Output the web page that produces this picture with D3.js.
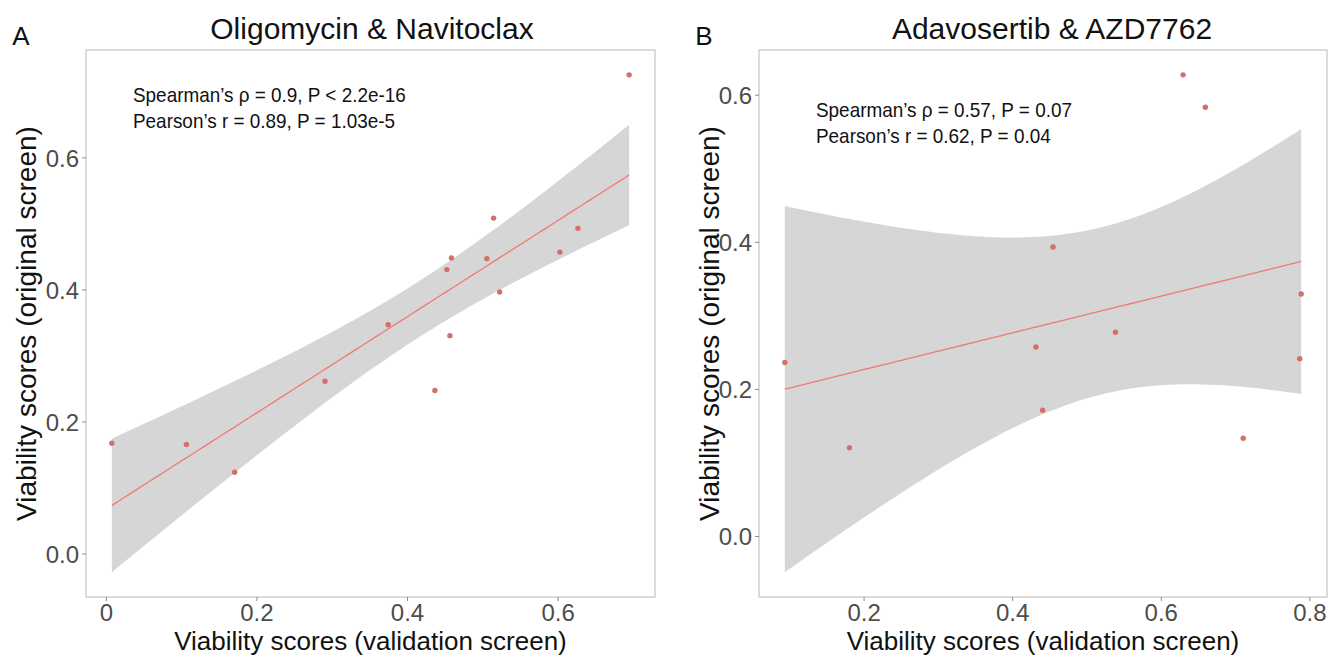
<!DOCTYPE html>
<html>
<head>
<meta charset="utf-8">
<script src="https://cdn.jsdelivr.net/npm/d3@7"></script>
<style>
  body { margin: 0; background: #ffffff; }
  svg { display: block; }
</style>
</head>
<body>
<svg id="chart" width="1332" height="658"></svg>
<script>
// ---------- data ----------
const panelLetters = ["A", "B"];
const panelTitles = ["Oligomycin & Navitoclax", "Adavosertib & AZD7762"];

const aValidation = [0.695, 0.515, 0.627, 0.603, 0.459, 0.453, 0.506, 0.523, 0.375, 0.457, 0.291, 0.437, 0.008, 0.107, 0.171];
const aOriginal   = [0.725, 0.508, 0.4925, 0.4565, 0.4475, 0.430, 0.4465, 0.396, 0.3465, 0.330, 0.261, 0.247, 0.167, 0.165, 0.123];
const aStats = ["Spearman\u2019s \u03c1 = 0.9, P < 2.2e-16", "Pearson\u2019s r = 0.89, P = 1.03e-5"];
const aXTicks = [0, 0.2, 0.4, 0.6];
const aXTickLabels = ["0", "0.2", "0.4", "0.6"];
const aYTicks = [0, 0.2, 0.4, 0.6];
const aYTickLabels = ["0.0", "0.2", "0.4", "0.6"];

const bValidation = [0.630, 0.660, 0.455, 0.789, 0.539, 0.094, 0.432, 0.787, 0.441, 0.181, 0.711];
const bOriginal   = [0.627, 0.583, 0.393, 0.329, 0.277, 0.236, 0.257, 0.241, 0.171, 0.120, 0.133];
const bStats = ["Spearman\u2019s \u03c1 = 0.57, P = 0.07", "Pearson\u2019s r = 0.62, P = 0.04"];
const bXTicks = [0.2, 0.4, 0.6, 0.8];
const bXTickLabels = ["0.2", "0.4", "0.6", "0.8"];
const bYTicks = [0, 0.2, 0.4, 0.6];
const bYTickLabels = ["0.0", "0.2", "0.4", "0.6"];

const xAxisTitle = "Viability scores (validation screen)";
const yAxisTitle = "Viability scores (original screen)";

// ---------- helpers ----------
// Student t 97.5% quantile (Cornish-Fisher expansion)
function tQuantile975(v) {
  const z = 1.959963985;
  const z3 = z*z*z, z5 = z3*z*z, z7 = z5*z*z, z9 = z7*z*z;
  return z + (z3 + z)/(4*v) + (5*z5 + 16*z3 + 3*z)/(96*v*v)
    + (3*z7 + 19*z5 + 17*z3 - 15*z)/(384*v*v*v)
    + (79*z9 + 776*z7 + 1482*z5 - 1920*z3 - 945*z)/(92160*v*v*v*v);
}

function linearFit(xs, ys) {
  const n = xs.length;
  const mx = d3.mean(xs), my = d3.mean(ys);
  let sxx = 0, sxy = 0;
  for (let i = 0; i < n; i++) { sxx += (xs[i]-mx)**2; sxy += (xs[i]-mx)*(ys[i]-my); }
  const b = sxy / sxx, a = my - b*mx;
  let sse = 0;
  for (let i = 0; i < n; i++) sse += (ys[i] - (a + b*xs[i]))**2;
  const s = Math.sqrt(sse / (n - 2));
  const t = tQuantile975(n - 2);
  const [x0, x1] = d3.extent(xs);
  return d3.range(80).map(i => {
    const x = x0 + (x1 - x0) * i / 79;
    const yh = a + b*x;
    const se = s * Math.sqrt(1/n + (x-mx)**2 / sxx);
    return { x, y: yh, lo: yh - t*se, hi: yh + t*se };
  });
}

const svg = d3.select("#chart");
const FONT = "'Liberation Sans', Arial, Helvetica, sans-serif";

function drawPanel(p) {
  const fitRows = linearFit(p.xs, p.ys);
  const xExt = d3.extent(p.xs);
  const yExt = d3.extent(p.ys.concat(fitRows.map(d => d.lo), fitRows.map(d => d.hi)));
  const xPad = (xExt[1]-xExt[0]) * 0.05, yPad = (yExt[1]-yExt[0]) * 0.05;

  const x = d3.scaleLinear().domain([xExt[0]-xPad, xExt[1]+xPad]).range([p.left, p.right]);
  const y = d3.scaleLinear().domain([yExt[0]-yPad, yExt[1]+yPad]).range([p.bottom, p.top]);

  const g = svg.append("g");

  // band
  g.append("path").datum(fitRows)
    .attr("fill", "#d6d6d6")
    .attr("d", d3.area().x(d => x(d.x)).y0(d => y(d.lo)).y1(d => y(d.hi)));
  // fitted line
  g.append("path").datum(fitRows)
    .attr("fill", "none").attr("stroke", "#ee7a72").attr("stroke-width", 1.3)
    .attr("d", d3.line().x(d => x(d.x)).y(d => y(d.y)));
  // points
  g.selectAll("circle.pt").data(p.xs.map((v, i) => [v, p.ys[i]])).join("circle")
    .attr("class", "pt")
    .attr("cx", d => x(d[0])).attr("cy", d => y(d[1])).attr("r", 2.7)
    .attr("fill", "#d4706b");

  // border
  g.append("rect")
    .attr("x", p.left).attr("y", p.top)
    .attr("width", p.right - p.left).attr("height", p.bottom - p.top)
    .attr("fill", "none").attr("stroke", "#c4c4c4").attr("stroke-width", 1.2);

  // axes
  const xa = g.append("g").attr("transform", `translate(0,${p.bottom})`)
    .call(d3.axisBottom(x).tickValues(p.xTicks).tickFormat((d, i) => p.xTickLabels[i]).tickSize(4).tickPadding(3));
  const ya = g.append("g").attr("transform", `translate(${p.left},0)`)
    .call(d3.axisLeft(y).tickValues(p.yTicks).tickFormat((d, i) => p.yTickLabels[i]).tickSize(4).tickPadding(3));
  [xa, ya].forEach(a => {
    a.select(".domain").remove();
    a.selectAll(".tick line").attr("stroke", "#8a8a8a");
    a.selectAll(".tick text").attr("fill", "#4d4d4d")
      .style("font-family", FONT).style("font-size", "24px");
  });
  ya.selectAll(".tick text").attr("dy", "0.36em");

  // axis titles
  g.append("text")
    .attr("x", (p.left + p.right)/2).attr("y", 650)
    .attr("text-anchor", "middle").attr("fill", "#111")
    .style("font-family", FONT).style("font-size", "26px")
    .text(xAxisTitle);
  g.append("text")
    .attr("transform", `translate(${p.yTitleX},${(p.top + p.bottom)/2}) rotate(-90)`)
    .attr("text-anchor", "middle").attr("fill", "#111")
    .style("font-family", FONT).style("font-size", "28px")
    .text(yAxisTitle);

  // title & letter
  g.append("text")
    .attr("x", p.titleX).attr("y", 39)
    .attr("text-anchor", "middle").attr("fill", "#111")
    .style("font-family", FONT).style("font-size", "30px")
    .text(p.title);
  g.append("text")
    .attr("x", p.letterX).attr("y", 45)
    .attr("text-anchor", "middle").attr("fill", "#111")
    .style("font-family", FONT).style("font-size", "26px")
    .text(p.letter);

  // stats annotation (condensed face)
  p.stats.forEach((s, i) => {
    const t = g.append("text")
      .attr("x", p.statsX).attr("y", p.statsY + i * 26)
      .attr("fill", "#111")
      .style("font-family", FONT).style("font-size", "21px")
      .text(s);
    const w = t.node().getComputedTextLength();
    t.attr("textLength", w * 0.9).attr("lengthAdjust", "spacingAndGlyphs");
  });
}

drawPanel({
  xs: aValidation, ys: aOriginal,
  xTicks: aXTicks, xTickLabels: aXTickLabels, yTicks: aYTicks, yTickLabels: aYTickLabels,
  left: 86, right: 655, top: 50, bottom: 597,
  yTitleX: 36, titleX: 372, letterX: 21, letter: panelLetters[0], title: panelTitles[0],
  stats: aStats, statsX: 133, statsY: 102
});
drawPanel({
  xs: bValidation, ys: bOriginal,
  xTicks: bXTicks, xTickLabels: bXTickLabels, yTicks: bYTicks, yTickLabels: bYTickLabels,
  left: 759, right: 1327, top: 50, bottom: 597,
  yTitleX: 719, titleX: 1052, letterX: 704, letter: panelLetters[1], title: panelTitles[1],
  stats: bStats, statsX: 816, statsY: 117
});
</script>
</body>
</html>
